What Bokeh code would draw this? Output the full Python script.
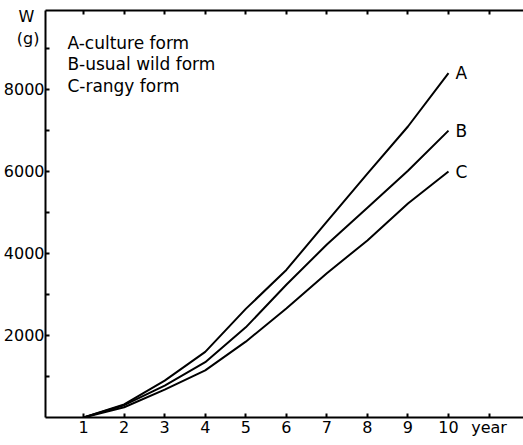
from bokeh.plotting import figure
from bokeh.models import Range1d, FixedTicker, LinearAxis, Label
from bokeh.embed import file_html
from bokeh.resources import INLINE
from bokeh.core.properties import value

# ---- data ----
years = [1, 2, 3, 4, 5, 6, 7, 8, 9, 10]
culture_form = [0, 320, 900, 1600, 2650, 3600, 4780, 5950, 7100, 8400]
usual_wild_form = [0, 300, 780, 1350, 2200, 3240, 4220, 5120, 6020, 7000]
rangy_form = [0, 250, 680, 1150, 1850, 2660, 3520, 4320, 5220, 6000]
curve_names = ["A", "B", "C"]
legend_lines = ["A-culture form", "B-usual wild form", "C-rangy form"]
x_ticks = [1, 2, 3, 4, 5, 6, 7, 8, 9, 10, 11]
x_tick_labels = {11: "year"}
y_labelled = [2000, 4000, 6000, 8000]
y_tick_marks = [1000, 2000, 3000, 4000, 5000, 6000, 7000, 8000, 9000]
unit_label = {9780: "W\u00a0\u00a0", 9250: "(g)\u00a0"}

FONT = "DejaVu Sans"

p = figure(width=523, height=445, output_backend="svg", toolbar_location=None,
           x_range=Range1d(0.06, 11.85), y_range=Range1d(0, 9930),
           min_border_left=45, min_border_right=0, min_border_top=10,
           min_border_bottom=28, x_axis_location=None, y_axis_location=None)
p.grid.visible = False
p.outline_line_color = None
p.background_fill_color = "white"
p.border_fill_color = "white"

def style_axis(ax):
    ax.axis_line_color = "black"
    ax.axis_line_width = 2
    ax.major_tick_line_color = "black"
    ax.major_tick_line_width = 2
    ax.minor_tick_line_color = "black"
    ax.minor_tick_line_width = 2
    ax.major_tick_in = 4
    ax.major_tick_out = 0
    ax.minor_tick_in = 4
    ax.minor_tick_out = 0
    ax.major_label_text_font = FONT
    ax.major_label_text_font_size = "16px"
    ax.major_label_text_color = "black"

bottom = LinearAxis(ticker=FixedTicker(ticks=x_ticks))
style_axis(bottom)
bottom.major_label_standoff = 0
bottom.major_label_overrides = {k: v for k, v in x_tick_labels.items()}
p.add_layout(bottom, "below")

top = LinearAxis(ticker=FixedTicker(ticks=[], minor_ticks=x_ticks))
style_axis(top)
top.major_tick_out = 10
top.major_label_standoff = 0
p.add_layout(top, "above")

left = LinearAxis(ticker=FixedTicker(ticks=y_labelled + list(unit_label.keys()),
                                     minor_ticks=y_tick_marks))
style_axis(left)
left.major_tick_line_color = None
left.major_label_standoff = 1
left.major_label_overrides = dict(unit_label)
p.add_layout(left, "left")

for series in (culture_form, usual_wild_form, rangy_form):
    p.line(years, series, line_color="black", line_width=2)

ends_x = [years[-1]] * 3
ends_y = [culture_form[-1], usual_wild_form[-1], rangy_form[-1]]
p.text(x=ends_x, y=ends_y, text=curve_names, x_offset=7, y_offset=0,
       text_font=value(FONT), text_font_size="17px", text_baseline="middle",
       text_align="left", text_color="black")

# key text
for i, line in enumerate(legend_lines):
    p.add_layout(Label(x=0.6, y=9146 - i * 525, text=line, text_font=FONT,
                       text_font_size="17px", text_align="left",
                       text_baseline="alphabetic", text_color="black"))

open("out.html", "w").write(file_html(p, INLINE))
